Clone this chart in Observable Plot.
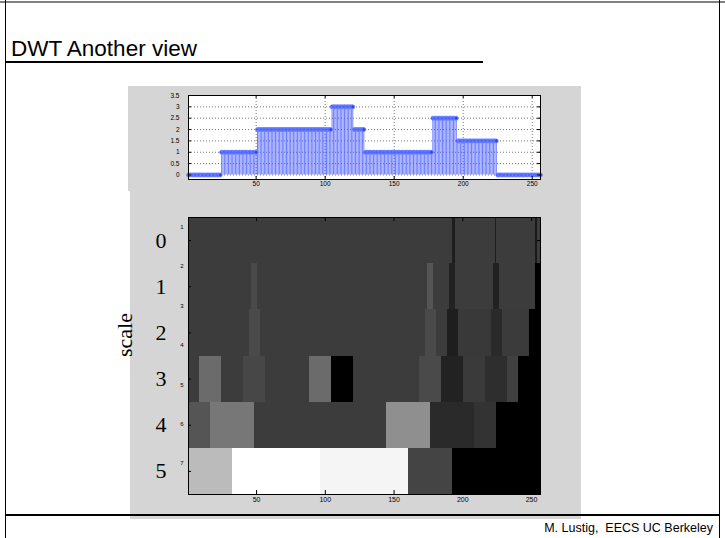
<!DOCTYPE html>
<html><head><meta charset="utf-8">
<script src="https://cdn.jsdelivr.net/npm/d3@7"></script>
<script src="https://cdn.jsdelivr.net/npm/@observablehq/plot@0.6"></script>
<style>
body{margin:0;background:#fff;}
#slide{position:relative;width:725px;height:538px;overflow:hidden;font-family:"Liberation Sans",Arial,sans-serif;background:#fff;}
.abs{position:absolute;}
</style></head><body>
<div id="slide">
  <div class="abs" style="left:0;top:1px;width:725px;height:2px;background:#808080"></div>
  <div class="abs" style="left:5px;top:0;width:1px;height:538px;background:#000"></div>
  <div class="abs" style="left:719px;top:0;width:1px;height:538px;background:#000"></div>
  <div class="abs" style="left:11px;top:38px;font-size:22.5px;line-height:22px;white-space:pre;color:#000">DWT Another view</div>
  <div class="abs" style="left:5px;top:61px;width:478px;height:2px;background:#000"></div>
  <div id="topPlot" class="abs" style="left:128px;top:86px"></div>
  <div id="bottomPlot" class="abs" style="left:130px;top:191px"></div>
  <div class="abs" style="left:125px;top:335px;transform:translate(-50%,-50%) rotate(-90deg);font-family:'Liberation Serif',serif;font-size:22px;line-height:22px;white-space:nowrap;color:#000">scale</div>
  <div class="abs" style="left:5px;top:514px;width:715px;height:2px;background:#000"></div>
  <div class="abs" style="right:12px;top:522px;font-size:12.5px;line-height:12.5px;white-space:pre;color:#000">M. Lustig,  EECS UC Berkeley</div>
</div>
<script>
// ---- top: piecewise-constant test signal ----
const levelStart = [1, 25, 51, 105, 121, 129, 178, 196, 225];
const levelValue = [0, 1, 2, 3, 2, 1, 2.5, 1.5, 0];
const signalLength = 256;
const topXTicks = [50, 100, 150, 200, 250];
const topYTicks = [0, 0.5, 1, 1.5, 2, 2.5, 3, 3.5];

// ---- bottom: DWT coefficient image, one row per scale ----
const cellRow   = [0,0,0,0, 1,1,1,1,1,1, 2,2,2,2,2,2,2,2, 3,3,3,3,3,3,3,3,3,3,3, 4,4,4,4,4,4,4, 5,5,5,5,5];
const cellStart = [1,193,224,253, 1,47,175,191,223,253, 1,45,173,189,197,221,229,249, 1,9,41,89,105,169,185,201,217,233,241, 1,17,49,145,177,209,225, 1,33,97,161,193];
const cellEnd   = [256,194,224,254, 256,50,178,194,226,256, 256,52,180,196,220,228,248,256, 256,24,56,104,120,184,200,216,232,240,256, 16,48,144,176,208,224,256, 32,96,160,192,256];
const cellGray  = [60,30,30,25, 60,74,85,34,34,0, 60,74,74,30,57,42,59,0, 60,107,71,107,0,74,34,58,46,64,0, 85,119,60,143,42,51,0, 187,255,245,68,0];
const scaleRows = [0, 1, 2, 3, 4, 5];
const scaleNames = ["0", "1", "2", "3", "4", "5"];
const smallTickLabels = ["1", "2", "3", "4", "5", "6", "7"];
const smallTickPos = [0.2, 1.06, 1.91, 2.76, 3.62, 4.48, 5.33];
const bottomXTicks = [50, 100, 150, 200, 250];

const signal = [];
for (let i = 1; i <= signalLength; i++) {
  let v = 0;
  for (let k = 0; k < levelStart.length; k++) if (i >= levelStart[k]) v = levelValue[k];
  signal.push({i, v});
}
const cells = cellRow.map((r, k) => ({row: r, start: cellStart[k], end: cellEnd[k], level: cellGray[k]}));

const panel = "#d5d5d5";
const tickFont = "Liberation Sans";

// top plot
{
  const W = 453, H = 105, mL = 60, mR = 41, mT = 9, mB = 12;
  const pw = W - mL - mR, ph = H - mT - mB;
  const p = Plot.plot({
    width: W, height: H, marginLeft: mL, marginRight: mR, marginTop: mT, marginBottom: mB,
    style: {background: panel, fontFamily: tickFont, color: "#000", overflow: "visible"},
    x: {domain: [1, 256], label: null, axis: null},
    y: {domain: [-0.2, 3.5], label: null, axis: null},
    marks: [
      Plot.frame({fill: "white", stroke: "none"}),
      Plot.gridX(topXTicks, {stroke: "#777", strokeOpacity: 1, strokeDasharray: "1,2"}),
      Plot.gridY(topYTicks, {stroke: "#777", strokeOpacity: 1, strokeDasharray: "1,2"}),
      Plot.ruleX(signal, {x: "i", y1: 0, y2: "v", stroke: "#4a5eff", strokeOpacity: 0.8, strokeWidth: 1}),
      Plot.dot(signal, {x: "i", y: "v", r: 2, fill: "#2a46ff", stroke: "#7d8fff", strokeWidth: 0.8}),
      Plot.tickX(topXTicks, {x: d => d, insetTop: ph - 3, stroke: "#000"}),
      Plot.tickX(topXTicks, {x: d => d, insetBottom: ph - 3, stroke: "#000"}),
      Plot.tickY(topYTicks, {y: d => d, insetRight: pw - 3, stroke: "#000"}),
      Plot.tickY(topYTicks, {y: d => d, insetLeft: pw - 3, stroke: "#000"}),
      Plot.frame({stroke: "#000", fill: "none"}),
      Plot.axisX(topXTicks, {tickSize: 0, tickPadding: 2, fontSize: 6.5, label: null}),
      Plot.axisY(topYTicks, {tickSize: 0, tickPadding: 9, fontSize: 6.5, label: null, tickFormat: d => String(d)})
    ]
  });
  document.getElementById("topPlot").append(p);
}

// bottom plot
{
  const W = 451, H = 328, mL = 58, mR = 41, mT = 26, mB = 25;
  const pw = W - mL - mR, ph = H - mT - mB;
  const p = Plot.plot({
    width: W, height: H, marginLeft: mL, marginRight: mR, marginTop: mT, marginBottom: mB,
    style: {background: panel, fontFamily: tickFont, color: "#000", overflow: "visible"},
    x: {domain: [0.5, 256.5], label: null, axis: null},
    y: {domain: [0, 6], reverse: true, label: null, axis: null},
    color: {type: "linear", domain: [0, 255], range: ["#000000", "#ffffff"], interpolate: "rgb"},
    marks: [
      Plot.rect(cells, {x1: d => d.start - 0.5, x2: d => d.end + 0.5, y1: "row", y2: d => d.row + 1, fill: d => d.level, shapeRendering: "crispEdges"}),
      Plot.tickX(bottomXTicks, {x: d => d, insetTop: ph - 4, stroke: "#000"}),
      Plot.tickX(bottomXTicks, {x: d => d, insetBottom: ph - 4, stroke: "#000"}),
      Plot.tickY(scaleRows, {y: d => d + 0.5, insetRight: pw - 3, stroke: "#000"}),
      Plot.tickY(scaleRows, {y: d => d + 0.5, insetLeft: pw - 3, stroke: "#000"}),
      Plot.frame({stroke: "#000", fill: "none"}),
      Plot.axisX(bottomXTicks, {tickSize: 0, tickPadding: 3, fontSize: 7, label: null}),
      Plot.text(smallTickLabels, {y: smallTickPos, text: d => d, frameAnchor: "left", dx: -5, textAnchor: "end", fontSize: 6, fill: "#000"}),
      Plot.text(scaleNames, {y: (d, i) => scaleRows[i] + 0.5, text: d => d, frameAnchor: "left", dx: -33, fontSize: 22, fontFamily: "Liberation Serif", fill: "#000"})
    ]
  });
  document.getElementById("bottomPlot").append(p);
}
</script>
</body></html>
